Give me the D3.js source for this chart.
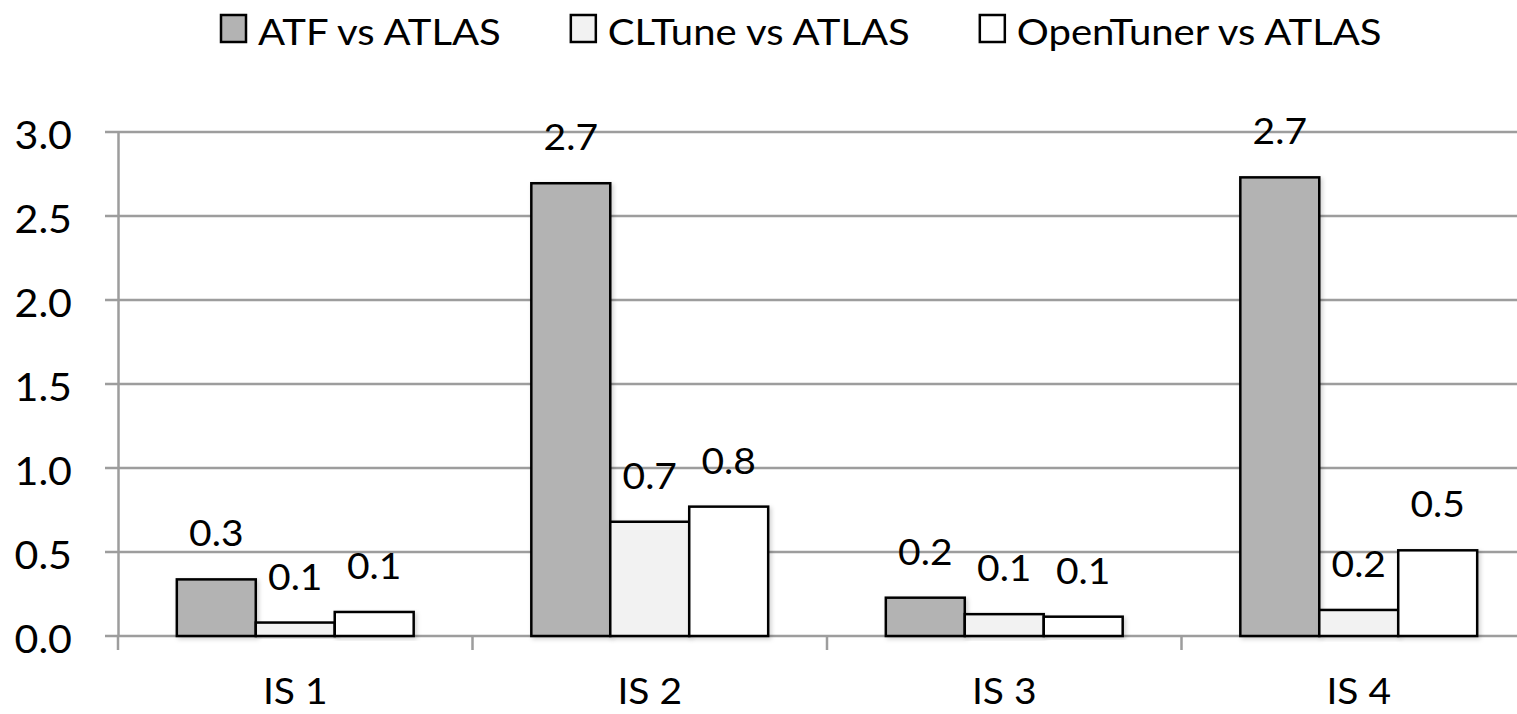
<!DOCTYPE html>
<html>
<head>
<meta charset="utf-8">
<script src="https://cdn.jsdelivr.net/npm/d3@7"></script>
<style>
  html, body { margin: 0; padding: 0; background: #ffffff; }
  svg { display: block; }
  text { font-family: Lato, "Open Sans", sans-serif; fill: #000; }
</style>
</head>
<body>
<svg id="chart" width="1517" height="714"></svg>
<script>
// ---- data ----
const categories = ["IS 1", "IS 2", "IS 3", "IS 4"];
const seriesNames = ["ATF vs ATLAS", "CLTune vs ATLAS", "OpenTuner vs ATLAS"];
const atfValues = [0.337, 2.695, 0.228, 2.73];
const cltuneValues = [0.08, 0.68, 0.13, 0.155];
const opentunerValues = [0.143, 0.77, 0.115, 0.51];
const yTickValues = [0, 0.5, 1.0, 1.5, 2.0, 2.5, 3.0];
const seriesFills = ["#b3b3b3", "#f2f2f2", "#ffffff"];

const seriesValues = [atfValues, cltuneValues, opentunerValues];

// ---- layout ----
const W = 1517, H = 714;
const plotLeft = 118, plotRight = 1536, plotTop = 132, plotBottom = 636;
const gridColor = "#9d9d9d";

const svg = d3.select("#chart");

const defs = svg.append("defs");
const f = defs.append("filter").attr("id", "shadow")
  .attr("x", "-10%").attr("y", "-10%").attr("width", "130%").attr("height", "130%");
f.append("feDropShadow").attr("dx", 2).attr("dy", 2).attr("stdDeviation", 2)
  .attr("flood-color", "#000").attr("flood-opacity", 0.18);

const y = d3.scaleLinear().domain([0, 3]).range([plotBottom, plotTop]);
const x0 = d3.scaleBand().domain(categories).range([plotLeft, plotRight]).paddingInner(0).paddingOuter(0);
const x1 = d3.scaleBand().domain(seriesNames).range([0, x0.bandwidth()]).paddingInner(0).paddingOuter(0.745);

// gridlines
svg.append("g").selectAll("line").data(yTickValues).join("line")
  .attr("x1", plotLeft - 13).attr("x2", W)
  .attr("y1", d => y(d)).attr("y2", d => y(d))
  .attr("stroke", gridColor).attr("stroke-width", 2.5);

// y axis line
svg.append("line")
  .attr("x1", plotLeft + 0.5).attr("x2", plotLeft + 0.5)
  .attr("y1", plotTop).attr("y2", plotBottom)
  .attr("stroke", gridColor).attr("stroke-width", 2.5);

// x ticks at category boundaries
const boundaries = categories.map(c => x0(c)).concat([plotRight]);
svg.append("g").selectAll("line").data(boundaries).join("line")
  .attr("x1", d => d).attr("x2", d => d)
  .attr("y1", plotBottom).attr("y2", plotBottom + 14)
  .attr("stroke", gridColor).attr("stroke-width", 2.5);

// legend (built first to derive the horizontal condensation factor)
const legend = svg.append("g");
const legendRects = [], legendTexts = [];
seriesNames.forEach((s, j) => {
  legendRects.push(legend.append("rect").attr("y", 15).attr("width", 25).attr("height", 27)
    .attr("fill", seriesFills[j]).attr("stroke", "#000").attr("stroke-width", 2.5));
  legendTexts.push(legend.append("text").attr("y", 45).attr("font-size", 37).text(s));
});
const naturalSum = d3.sum(legendTexts, t => t.node().getComputedTextLength());
const sx = Math.max(0.7, Math.min(1.15, 910 / naturalSum));
function squeeze(node) {
  const tx = +node.getAttribute("x"), ty = +node.getAttribute("y");
  node.setAttribute("transform", `translate(${tx},${ty}) scale(${sx},1) translate(${-tx},${-ty})`);
}
let cx = 221;
legendTexts.forEach((t, j) => {
  legendRects[j].attr("x", cx);
  const tx = cx + 37;
  t.attr("x", tx);
  squeeze(t.node());
  cx = tx + t.node().getComputedTextLength() * sx + 70;
});

// y tick labels
const fmt = d3.format(".1f");
svg.append("g").selectAll("text").data(yTickValues).join("text")
  .attr("x", 72).attr("y", d => y(d) + 17)
  .attr("text-anchor", "end").attr("font-size", 38)
  .text(d => fmt(d)).each(function() { squeeze(this); });

// x labels
svg.append("g").selectAll("text").data(categories).join("text")
  .attr("x", d => x0(d) + x0.bandwidth() / 2).attr("y", 704)
  .attr("text-anchor", "middle").attr("font-size", 36)
  .text(d => d).each(function() { squeeze(this); });

// bars
const rows = [];
categories.forEach((c, i) => {
  seriesNames.forEach((s, j) => rows.push({ cat: c, series: s, si: j, value: seriesValues[j][i] }));
});

svg.append("g").selectAll("rect").data(rows).join("rect")
  .attr("x", d => x0(d.cat) + x1(d.series))
  .attr("y", d => y(d.value))
  .attr("width", x1.bandwidth())
  .attr("height", d => y(0) - y(d.value))
  .attr("fill", d => seriesFills[d.si])
  .attr("stroke", "#000").attr("stroke-width", 2.5)
  .attr("filter", "url(#shadow)");

// data labels
svg.append("g").selectAll("text").data(rows).join("text")
  .attr("x", d => x0(d.cat) + x1(d.series) + x1.bandwidth() / 2)
  .attr("y", d => y(d.value) - 33)
  .attr("text-anchor", "middle").attr("font-size", 36)
  .text(d => fmt(d.value)).each(function() { squeeze(this); });
</script>
</body>
</html>
